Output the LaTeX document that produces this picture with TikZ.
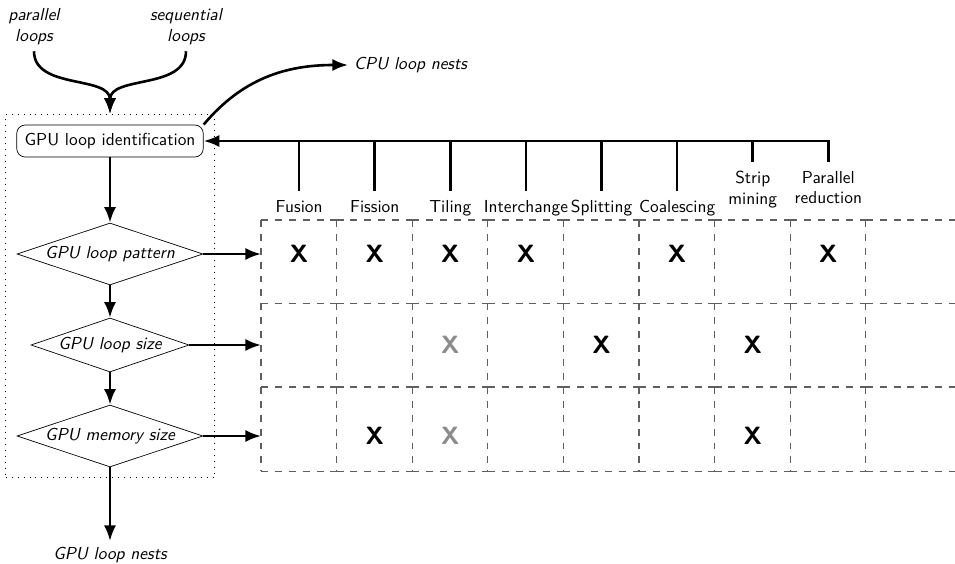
\documentclass[tikz,border=0pt]{standalone}
\usepackage{tikz}
\usetikzlibrary{shapes.geometric, arrows.meta, positioning, calc, fit}
\usepackage{xcolor}
\definecolor{gridcol}{RGB}{95,95,95}
\definecolor{weak}{RGB}{140,140,140}

\begin{document}
\begin{tikzpicture}[
      x=0.576pt, y=-0.576pt,
      every node/.style={font=\sffamily},
      idbox/.style={rectangle, rounded corners=5pt, draw=black, line width=0.4pt,
                  minimum width=107.5pt, minimum height=18.5pt, inner xsep=2pt},
      test/.style={diamond, draw=black, line width=0.4pt, aspect=3, inner sep=0pt,
                  font=\sffamily\itshape},
      cell/.style={rectangle, anchor=north west, minimum width=43.55pt,
                  minimum height=48.1pt, inner sep=0pt},
      gridline/.style={draw=gridcol, dash pattern=on 4pt off 4pt, line width=0.6pt},
      tlabel/.style={anchor=north, align=center, inner ysep=5pt},
      xmark/.style={font=\sffamily\bfseries\Large, inner sep=0pt},
      arr/.style={-{Latex[length=9pt, width=7pt]}, line width=1.5pt},
      bar/.style={line width=1.5pt}
    ]
    \useasboundingbox (0,0) rectangle (955,564);
    % flow on the left
    \node[align=center, font=\sffamily\itshape] (par) at (34,27) {parallel\\loops};
    \node[align=center, font=\sffamily\itshape] (seq) at (186,27) {sequential\\loops};
    \node[idbox] (id) at (110,141) {GPU loop identification};
    \node[test, minimum width=107pt, minimum height=35.7pt] (pat) at (110,254) {GPU loop pattern};
    \node[test, minimum width=91pt, minimum height=31.1pt] (size) at (110,345) {GPU loop size};
    \node[test, minimum width=107pt, minimum height=35.7pt] (mem) at (110,436) {GPU memory size};
    \node[draw, dash pattern=on 0.4pt off 3pt, line width=0.5pt, fit=(id)(pat)(mem), inner sep=6pt] (stage) {};
    \node[font=\sffamily\itshape, anchor=west] (cpu) at (348,65) {CPU loop nests};
    \node[font=\sffamily\itshape] (gpu) at (110,555) {GPU loop nests};

    \draw[arr] (par.south) to[out=-90, in=90] (stage.north);
    \draw[arr] (seq.south) to[out=-90, in=90] (stage.north);
    \draw[arr] (id.north east) to[out=50, in=180] (cpu.west);
    \draw[arr] (id) -- (pat);
    \draw[arr] (pat) -- (size);
    \draw[arr] (size) -- (mem);
    \draw[arr] (mem) -- (gpu);

    % grid of transformations
    \foreach \r in {1,2,3} {
      \foreach \c in {0,...,7} {
        \node[cell] (c-\r-\c) at ({261+75.6*\c}, {136.5+83.5*\r}) {};
      }
      \node[cell, minimum width=60pt] (c-\r-8) at ({261+75.6*8}, {136.5+83.5*\r}) {};
      \foreach \c in {0,...,8} {
        \draw[gridline] (c-\r-\c.north west) -- (c-\r-\c.north east)
                        (c-\r-\c.north west) -- (c-\r-\c.south west);
      }
    }
    \foreach \c in {0,...,8} {
      \draw[gridline] (c-3-\c.south west) -- (c-3-\c.south east);
    }
    \foreach \c/\txt/\ytop in {0/Fusion/191, 1/Fission/191, 2/Tiling/191,
        3/Interchange/191, 4/Splitting/191, 5/Coalescing/191, 6/{Strip\\mining}/162} {
      \node[tlabel] (t-\c) at (c-1-\c.north |- 0,\ytop) {\txt};
      \draw[bar] (t-\c.north) -- (t-\c.north |- id.east);
    }
    \node[tlabel] (t-7) at (c-1-7.north |- 0,162) {Parallel\\reduction};
    \draw[arr] (t-7.north) |- (id.east);

    \draw[arr] (pat.east) -- (pat.east -| c-1-0.west);
    \draw[arr] (size.east) -- (size.east -| c-2-0.west);
    \draw[arr] (mem.east) -- (mem.east -| c-3-0.west);

    % marks
    \foreach \r/\d/\c/\col in {1/pat/0/black, 1/pat/1/black, 1/pat/2/black, 1/pat/3/black,
        1/pat/5/black, 1/pat/7/black, 2/size/2/weak, 2/size/4/black, 2/size/6/black,
        3/mem/1/black, 3/mem/2/weak, 3/mem/6/black} {
      \node[xmark, text=\col] (x-\r-\c) at (c-\r-\c |- \d) {X};
    }
  \end{tikzpicture}
\end{document}
